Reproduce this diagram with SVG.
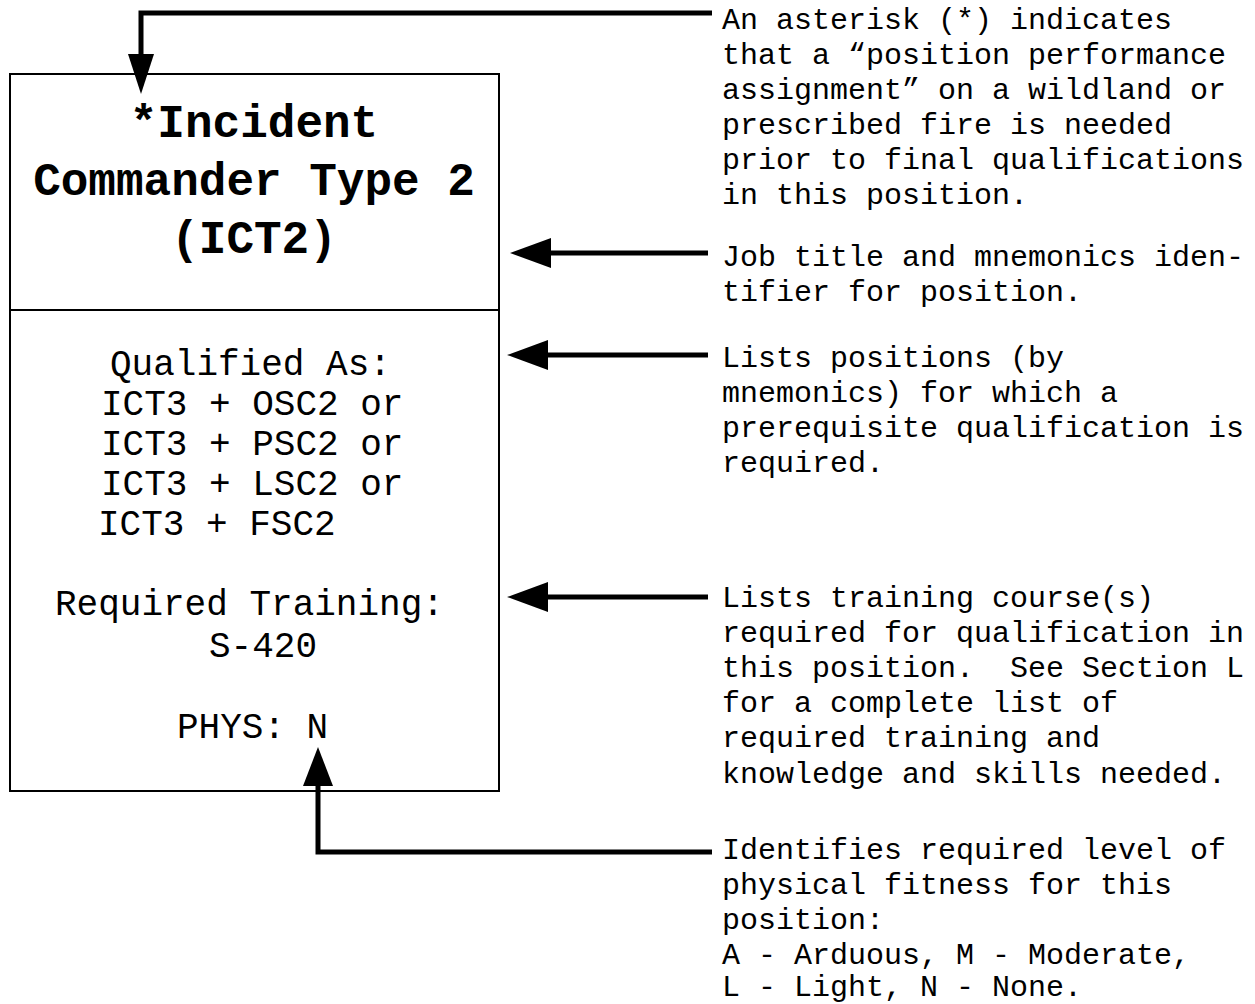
<svg xmlns="http://www.w3.org/2000/svg" width="1255" height="1004" viewBox="0 0 1255 1004">
<style>
  .box { fill: #ffffff; stroke: #000000; stroke-width: 2; }
  .title { font-family: "Liberation Mono", "Courier New", monospace; font-weight: bold; font-size: 46px; fill: #000000; text-anchor: middle; }
  .body { font-family: "Liberation Mono", "Courier New", monospace; font-size: 36px; fill: #000000; }
  .note { font-family: "Liberation Mono", "Courier New", monospace; font-size: 30px; fill: #000000; white-space: pre; }
  .conn { fill: none; stroke: #000000; stroke-width: 5; stroke-linejoin: miter; }
  .head { fill: #000000; stroke: none; }
</style>
<rect width="1255" height="1004" fill="#ffffff"/>

<g id="position-card">
  <rect class="box" x="10" y="74" width="489" height="717"/>
  <line x1="10" y1="310" x2="499" y2="310" stroke="#000000" stroke-width="2"/>
  <text class="title" x="254" y="137">*Incident</text>
  <text class="title" x="254" y="195">Commander Type 2</text>
  <text class="title" x="254" y="253">(ICT2)</text>
  <text class="body" x="110" y="375">Qualified As:</text>
  <text class="body" x="101" y="415">ICT3 + OSC2 or</text>
  <text class="body" x="101" y="455">ICT3 + PSC2 or</text>
  <text class="body" x="101" y="495">ICT3 + LSC2 or</text>
  <text class="body" x="98" y="535">ICT3 + FSC2</text>
  <text class="body" x="55" y="615">Required Training:</text>
  <text class="body" x="209" y="657">S-420</text>
  <text class="body" x="177" y="738">PHYS: N</text>
</g>

<g id="note-asterisk">
  <text class="note" x="722" y="29">An asterisk (*) indicates</text>
  <text class="note" x="722" y="64">that a “position performance</text>
  <text class="note" x="722" y="99">assignment” on a wildland or</text>
  <text class="note" x="722" y="134">prescribed fire is needed</text>
  <text class="note" x="722" y="169">prior to final qualifications</text>
  <text class="note" x="722" y="204">in this position.</text>
</g>

<g id="note-title">
  <text class="note" x="722" y="266">Job title and mnemonics iden-</text>
  <text class="note" x="722" y="301">tifier for position.</text>
</g>

<g id="note-qualified">
  <text class="note" x="722" y="367">Lists positions (by</text>
  <text class="note" x="722" y="402">mnemonics) for which a</text>
  <text class="note" x="722" y="437">prerequisite qualification is</text>
  <text class="note" x="722" y="472">required.</text>
</g>

<g id="note-training">
  <text class="note" x="722" y="607">Lists training course(s)</text>
  <text class="note" x="722" y="642">required for qualification in</text>
  <text class="note" x="722" y="677" xml:space="preserve">this position.  See Section L</text>
  <text class="note" x="722" y="712">for a complete list of</text>
  <text class="note" x="722" y="747">required training and</text>
  <text class="note" x="722" y="783">knowledge and skills needed.</text>
</g>

<g id="note-phys">
  <text class="note" x="722" y="859">Identifies required level of</text>
  <text class="note" x="722" y="894">physical fitness for this</text>
  <text class="note" x="722" y="929">position:</text>
  <text class="note" x="722" y="964">A - Arduous, M - Moderate,</text>
  <text class="note" x="722" y="996">L - Light, N - None.</text>
</g>

<g id="connectors">
  <polyline class="conn" points="712,13 141,13 141,56"/>
  <polygon class="head" points="128,54 154,54 141,94"/>

  <line class="conn" x1="708" y1="253" x2="548" y2="253"/>
  <polygon class="head" points="551,238 551,268 510,253"/>

  <line class="conn" x1="708" y1="355" x2="545" y2="355"/>
  <polygon class="head" points="548,340 548,370 507,355"/>

  <line class="conn" x1="708" y1="597" x2="545" y2="597"/>
  <polygon class="head" points="548,582 548,612 507,597"/>

  <polyline class="conn" points="712,852 318,852 318,783"/>
  <polygon class="head" points="303,786 333,786 318,747"/>
</g>
</svg>
